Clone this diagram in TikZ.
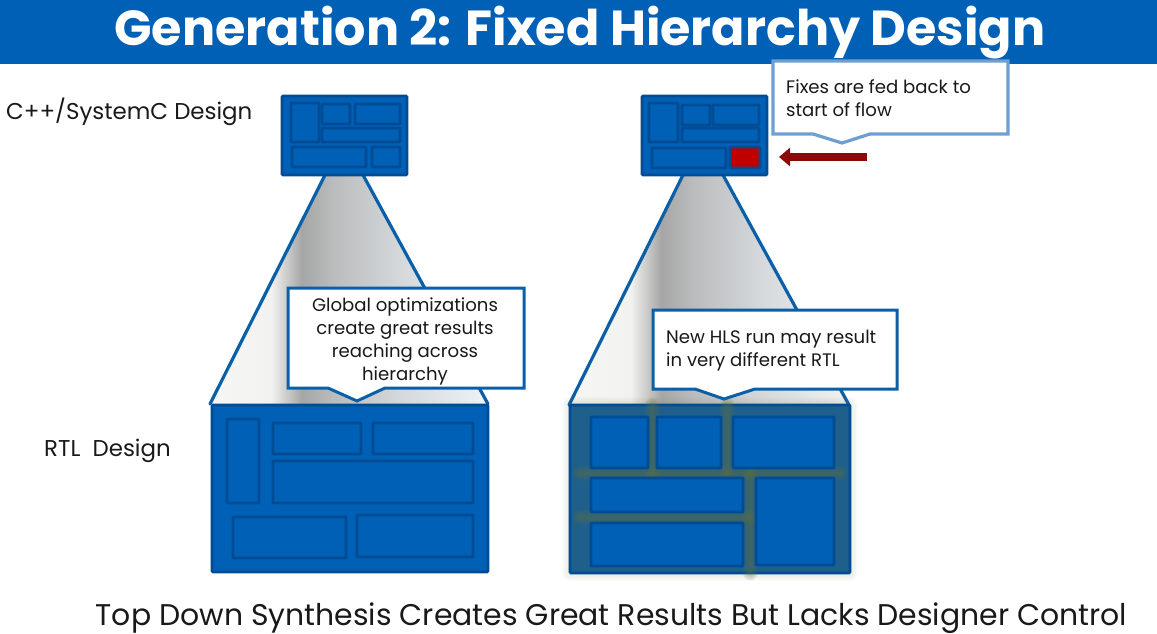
\documentclass[tikz,border=0pt]{standalone}
\usepackage{fontspec}
\setmainfont{Poppins}
\usetikzlibrary{arrows.meta}
\definecolor{bandblue}{HTML}{0060B6}
\definecolor{edgeblue}{HTML}{004C94}
\definecolor{coneblue}{HTML}{0A60A8}
\definecolor{paleblue}{HTML}{6F9FD0}
\definecolor{teal}{HTML}{1F5F8C}
\definecolor{olive}{HTML}{66723A}
\definecolor{fixred}{HTML}{C00000}
\definecolor{darkred}{HTML}{8A0A0A}
\definecolor{conea}{HTML}{F6F6F4}
\definecolor{coneb}{HTML}{F2F2F0}
\definecolor{conec}{HTML}{A6A6A6}
\definecolor{coned}{HTML}{BABBBC}
\definecolor{conee}{HTML}{D4D8DA}
\definecolor{conef}{HTML}{F0F3F4}
\pgfdeclarehorizontalshading{coneshade}{100bp}{
	color(0bp)=(conea);
	color(25bp)=(conea);
	color(36bp)=(coneb);
	color(41.5bp)=(conec);
	color(47bp)=(coned);
	color(59bp)=(conee);
	color(75bp)=(conef);
	color(100bp)=(conef)}
\tikzset{
	blockouter/.style={fill=bandblue, draw=edgeblue, line width=2.8pt, rounded corners=1pt},
	blockinner/.style={draw=edgeblue, line width=2.8pt, rounded corners=0.5pt},
	conefill/.style={shading=coneshade},
	coneedge/.style={draw=coneblue, line width=3.2pt, line cap=round},
	callout/.style={fill=white, draw=coneblue, line width=3pt, line join=miter},
	calloutpale/.style={callout, draw=paleblue, line width=3.2pt},
	notetext/.style={font=\fontsize{18.1}{23}\selectfont, text=black!90, inner sep=0pt},
	labeltext/.style={font=\fontsize{22.9}{27}\selectfont, text=black!90, inner sep=0pt},
	fixarrow/.style={-{Triangle[length=11pt,width=18pt]}, draw=darkred, fill=darkred, line width=8pt},
	glowline/.style={draw=olive, opacity=0.11, line cap=round}
}

\begin{document}
\begin{tikzpicture}[x=1pt,y=-1pt]
	\useasboundingbox (0,0) rectangle (1157,634);
	% title band
	\fill[bandblue] (0,0) rectangle (1157,64);
	\node[font=\fontsize{49.2}{54}\bfseries\selectfont, text=white, inner sep=0pt] (title) at (580,33) {Generation 2: Fixed Hierarchy Design};

	% left column
	\begin{scope}
		\clip (325,175) -- (363,175) -- (488,404) -- (210,404) -- cycle;
		\fill[conefill] (210,175) rectangle (488,404);
	\end{scope}
	\draw[coneedge] (325,175) -- (210,404);
	\draw[coneedge] (363,175) -- (488,404);
	\draw[blockouter] (282,96) rectangle (407,175);
	\foreach \xa/\ya/\xb/\yb in {291/103/319/142, 322/104/350/124, 355/104/400/124, 322/128/400/142, 292/147/366/167, 372/147/400/167}
		\draw[blockinner] (\xa,\ya) rectangle (\xb,\yb);
	\draw[blockouter] (212,405) rectangle (488,572);
	\foreach \xa/\ya/\xb/\yb in {227/419/259/503, 273/423/361/454, 373/423/473/454, 273/461/473/503, 233/517/346/558, 357/515/473/557}
		\draw[blockinner] (\xa,\ya) rectangle (\xb,\yb);
	\draw[callout] (288,288) -- (524,288) -- (524,388) -- (385,388) -- (357,401) -- (328,388) -- (288,388) -- cycle;
	\node[notetext, align=center] (globalnote) at (405,341) {Global optimizations\\create great results\\reaching across\\hierarchy};

	% right column
	\begin{scope}
		\clip (683,175) -- (723,175) -- (849,405) -- (569,405) -- cycle;
		\fill[conefill] (569,175) rectangle (849,405);
	\end{scope}
	\draw[coneedge] (683,175) -- (569,405);
	\draw[coneedge] (723,175) -- (849,405);
	\draw[blockouter] (642,96) rectangle (767,175);
	\foreach \xa/\ya/\xb/\yb in {649/103/678/142, 682/105/710/125, 713/105/759/125, 682/128/759/142, 652/148/726/168}
		\draw[blockinner] (\xa,\ya) rectangle (\xb,\yb);
	\draw[blockinner, fill=fixred] (730,147) rectangle (760,168);
	\coordinate (fixstart) at (867,157);
	\coordinate (fixend) at (779,157);
	\draw[fixarrow] (fixstart) -- (fixend);

	% blurred halo behind the new block
	\foreach \w in {16,12,8,4}
		\draw[glowline, opacity=0.035, line width=\w pt, line join=round] (570,405) rectangle (850,573);
	\draw[blockouter, fill=teal] (570,405) rectangle (850,573);
	\foreach \w in {15,12,9,6,3}{
		\draw[glowline, line width=\w pt] (580,473) -- (840,473);
		\draw[glowline, line width=\w pt] (580,517) -- (750,517);
		\draw[glowline, line width=\w pt] (652,405) -- (652,473);
		\draw[glowline, line width=\w pt] (727,405) -- (727,473);
		\draw[glowline, line width=\w pt] (750,473) -- (750,573);
	}
	\foreach \xa/\ya/\xb/\yb in {591/417/648/468, 657/417/721/468, 733/417/834/468, 591/478/743/512, 591/523/743/566, 756/478/834/565}
		\draw[blockinner, fill=bandblue] (\xa,\ya) rectangle (\xb,\yb);
	\draw[callout] (653,310) -- (897,310) -- (897,389) -- (755,389) -- (724,399) -- (695,389) -- (653,389) -- cycle;
	\node[notetext, align=left, anchor=west] (hlsnote) at (666,351) {New HLS run may result\\in very different RTL};
	\draw[calloutpale] (773,61) -- (1008,61) -- (1008,134) -- (870,134) -- (842,143) -- (813,134) -- (773,134) -- cycle;
	\node[notetext, align=left, anchor=west] (fixnote) at (786,98) {Fixes are fed back to\\start of flow};

	% labels
	\node[labeltext, anchor=west] (cpplabel) at (6,112) {C++/SystemC Design};
	\node[labeltext, anchor=west] (rtllabel) at (44,451) {RTL\ \ Design};
	\node[font=\fontsize{29.9}{34}\selectfont, text=black!90, inner sep=0pt] (summary) at (611.5,618) {Top Down Synthesis Creates Great Results But Lacks Designer Control};
\end{tikzpicture}
\end{document}
